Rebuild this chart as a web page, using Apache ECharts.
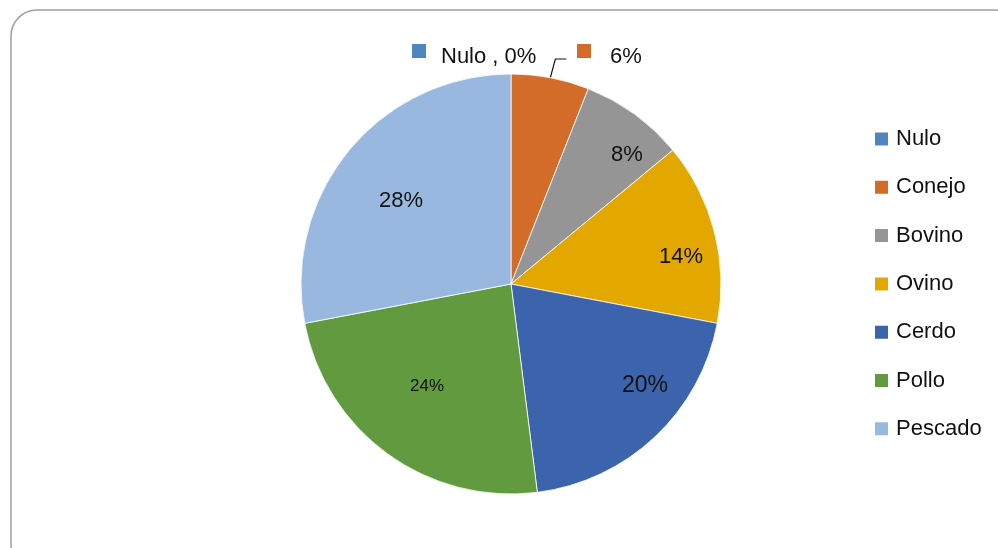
<!DOCTYPE html>
<html><head><meta charset="utf-8">
<script src="https://cdn.jsdelivr.net/npm/echarts@6/dist/echarts.min.js"></script>
<style>html,body{margin:0;padding:0;background:#fff}#c{width:998px;height:548px}</style>
</head><body><div id="c"></div>
<script>
const categories = ['Nulo', 'Conejo', 'Bovino', 'Ovino', 'Cerdo', 'Pollo', 'Pescado'];
const values = [0, 6, 8, 14, 20, 24, 28];
const labelTexts = ['Nulo , 0%', '6%', '8%', '14%', '20%', '24%', '28%'];
const colors = ['#4F86BF', '#D46C29', '#959595', '#E2A800', '#3C64AD', '#629B3F', '#98B8DF'];

// label placement (style, not data)
const labelPos = [[412, 56], [577, 56], [627, 155], [681, 257], [645, 386], [427, 386], [401, 201]];
const labelSize = [22, 22, 22, 22, 23, 17, 22];
const labelGap = [15, 19];
const FONT = '"Liberation Sans", Arial, sans-serif';

const chart = echarts.init(document.getElementById('c'), null, {renderer: 'canvas'});
const data = categories.map((name, i) => {
  const outside = i < 2;
  return {
    name, value: values[i],
    itemStyle: {color: colors[i]},
    label: {
      position: outside ? 'outside' : 'inside',
      formatter: outside ? '{sq|}{t|' + labelTexts[i] + '}' : labelTexts[i],
      fontSize: labelSize[i],
      rich: outside ? {
        sq: {width: 14, height: 14, backgroundColor: colors[i], verticalAlign: 'top'},
        t: {fontSize: labelSize[i], fontFamily: FONT, color: '#111', padding: [2, 0, 0, labelGap[i]]}
      } : undefined
    },
    labelLine: {show: i === 1, lineStyle: {color: '#111', width: 1.2}}
  };
});

chart.setOption({
  backgroundColor: '#fff',
  animation: false,
  graphic: [{
    type: 'rect', shape: {x: 11, y: 10, width: 1010, height: 560, r: 26},
    style: {fill: 'none', stroke: '#a0a0a0', lineWidth: 1.5}, z: -10
  }],
  legend: {
    orient: 'vertical', left: 868, top: 122,
    itemWidth: 15, itemHeight: 15, itemGap: 24.3,
    icon: 'rect',
    data: categories,
    textStyle: {fontFamily: FONT, fontSize: 22, color: '#111', lineHeight: 24, padding: [0, 0, 0, 2]}
  },
  series: [{
    type: 'pie',
    center: [511, 284], radius: 210,
    startAngle: 90, clockwise: true,
    minShowLabelAngle: -1,
    avoidLabelOverlap: false,
    itemStyle: {borderColor: '#fff', borderWidth: 0.8},
    label: {fontFamily: FONT, color: '#111', fontSize: 22},
    labelLine: {length: 18, length2: 11},
    emphasis: {disabled: true},
    labelLayout: function (p) {
      const i = p.dataIndex;
      const pos = labelPos[i];
      const res = {x: pos[0], y: pos[1], align: i < 2 ? 'left' : 'center', verticalAlign: 'middle'};
      if (i === 1 && p.labelLinePoints) {
        const p0 = p.labelLinePoints[0];
        res.labelLinePoints = [[p0[0], p0[1]], [p0[0] + 5, 59], [p0[0] + 16, 59]];
      }
      return res;
    },
    data
  }]
});
</script></body></html>
